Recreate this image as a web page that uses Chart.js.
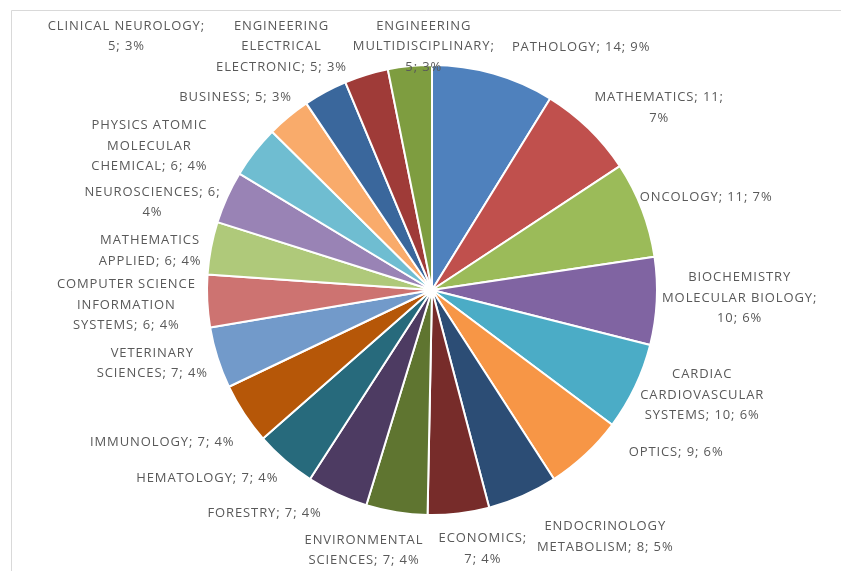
<!DOCTYPE html>
<html>
<head>
<meta charset="utf-8">
<script src="https://cdn.jsdelivr.net/npm/chart.js@4.4.1/dist/chart.umd.min.js"></script>
<style>
  html, body { margin: 0; padding: 0; background: #fff; }
</style>
</head>
<body>
<canvas id="pieChart" width="841" height="571"></canvas>
<script>
// Data
const categories = [
  "PATHOLOGY", "MATHEMATICS", "ONCOLOGY", "BIOCHEMISTRY MOLECULAR BIOLOGY",
  "CARDIAC CARDIOVASCULAR SYSTEMS", "OPTICS", "ENDOCRINOLOGY METABOLISM",
  "ECONOMICS", "ENVIRONMENTAL SCIENCES", "FORESTRY", "HEMATOLOGY", "IMMUNOLOGY",
  "VETERINARY SCIENCES", "COMPUTER SCIENCE INFORMATION SYSTEMS", "MATHEMATICS APPLIED",
  "NEUROSCIENCES", "PHYSICS ATOMIC MOLECULAR CHEMICAL", "BUSINESS", "CLINICAL NEUROLOGY",
  "ENGINEERING ELECTRICAL ELECTRONIC", "ENGINEERING MULTIDISCIPLINARY"
];
const counts = [14, 11, 11, 10, 10, 9, 8, 7, 7, 7, 7, 7, 7, 6, 6, 6, 6, 5, 5, 5, 5];

// Excel 2010 style palette
const sliceColors = [
  "#4F81BD", "#C0504D", "#9BBB59", "#8064A2", "#4BACC6", "#F79646",
  "#2C4D75", "#772C2A", "#5F7530", "#4D3B62", "#276A7C", "#B65708",
  "#729ACA", "#CD7371", "#AFC97A", "#9983B5", "#6FBDD1", "#F9AB6B",
  "#3A679C", "#9F3B38", "#7E9D40"
];

// Label placement: shift from the radial anchor of each slice, and wrap width
const labelNudge = [
  [71, 32], [28, 23], [7, 10], [22, -6], [12, -18], [49, -47], [58, -15],
  [17, -25], [-23, -22], [-47, -36], [-38, -28], [-31, -5], [-7, -13],
  [-20, 1], [-1, 14], [-19, 30], [-57, 32], [-14, 28], [-170, -2], [-67, 30], [20, 41]
];
const labelWrap = [
  150, 142, 150, 165, 135, 150, 145, 96, 120, 150, 160, 160,
  120, 150, 120, 145, 125, 150, 162, 135, 140
];

const total = counts.reduce((a, b) => a + b, 0);

function wrapText(ctx, text, maxWidth) {
  const words = text.split(" ");
  const lines = [];
  let line = "";
  words.forEach(w => {
    const test = line ? line + " " + w : w;
    if (line && ctx.measureText(test).width > maxWidth) {
      lines.push(line);
      line = w;
    } else {
      line = test;
    }
  });
  if (line) lines.push(line);
  return lines;
}

// white background + thin frame like the source image
const framePlugin = {
  id: "frame",
  beforeDraw(chart) {
    const ctx = chart.ctx;
    ctx.save();
    ctx.fillStyle = "#fff";
    ctx.fillRect(0, 0, chart.width, chart.height);
    ctx.strokeStyle = "#d9d9d9";
    ctx.lineWidth = 1;
    ctx.beginPath();
    ctx.moveTo(11.5, chart.height);
    ctx.lineTo(11.5, 10.5);
    ctx.lineTo(chart.width, 10.5);
    ctx.stroke();
    ctx.restore();
  }
};

// outside data labels "NAME; n; p%"
const labelPlugin = {
  id: "sliceLabels",
  afterDatasetsDraw(chart) {
    const ctx = chart.ctx;
    const meta = chart.getDatasetMeta(0);
    ctx.save();
    ctx.font = "13px 'Open Sans'";
    ctx.letterSpacing = "0.9px";
    ctx.fillStyle = "#595959";
    ctx.textAlign = "center";
    ctx.textBaseline = "middle";
    meta.data.forEach((arc, i) => {
      const p = arc.getProps(["x", "y", "startAngle", "endAngle", "outerRadius"], true);
      const mid = (p.startAngle + p.endAngle) / 2;
      const R = p.outerRadius + 61;
      const cx = p.x + Math.cos(mid) * R + labelNudge[i][0];
      const cy = p.y + Math.sin(mid) * R + labelNudge[i][1];
      const pct = Math.round(counts[i] / total * 100);
      const lines = wrapText(ctx, `${categories[i]}; ${counts[i]}; ${pct}%`, labelWrap[i]);
      const lh = 20.5;
      lines.forEach((ln, k) => {
        ctx.fillText(ln, cx, cy + (k - (lines.length - 1) / 2) * lh);
      });
    });
    ctx.restore();
  }
};

const ctx = document.getElementById("pieChart").getContext("2d");
const pieChart = new Chart(ctx, {
  type: "pie",
  data: {
    labels: categories,
    datasets: [{
      data: counts,
      backgroundColor: sliceColors,
      borderColor: "#ffffff",
      borderWidth: 2
    }]
  },
  options: {
    responsive: false,
    animation: false,
    layout: { padding: { left: 206, right: 183, top: 64, bottom: 55 } },
    plugins: {
      legend: { display: false },
      tooltip: { enabled: false }
    }
  },
  plugins: [framePlugin, labelPlugin]
});
</script>
</body>
</html>
